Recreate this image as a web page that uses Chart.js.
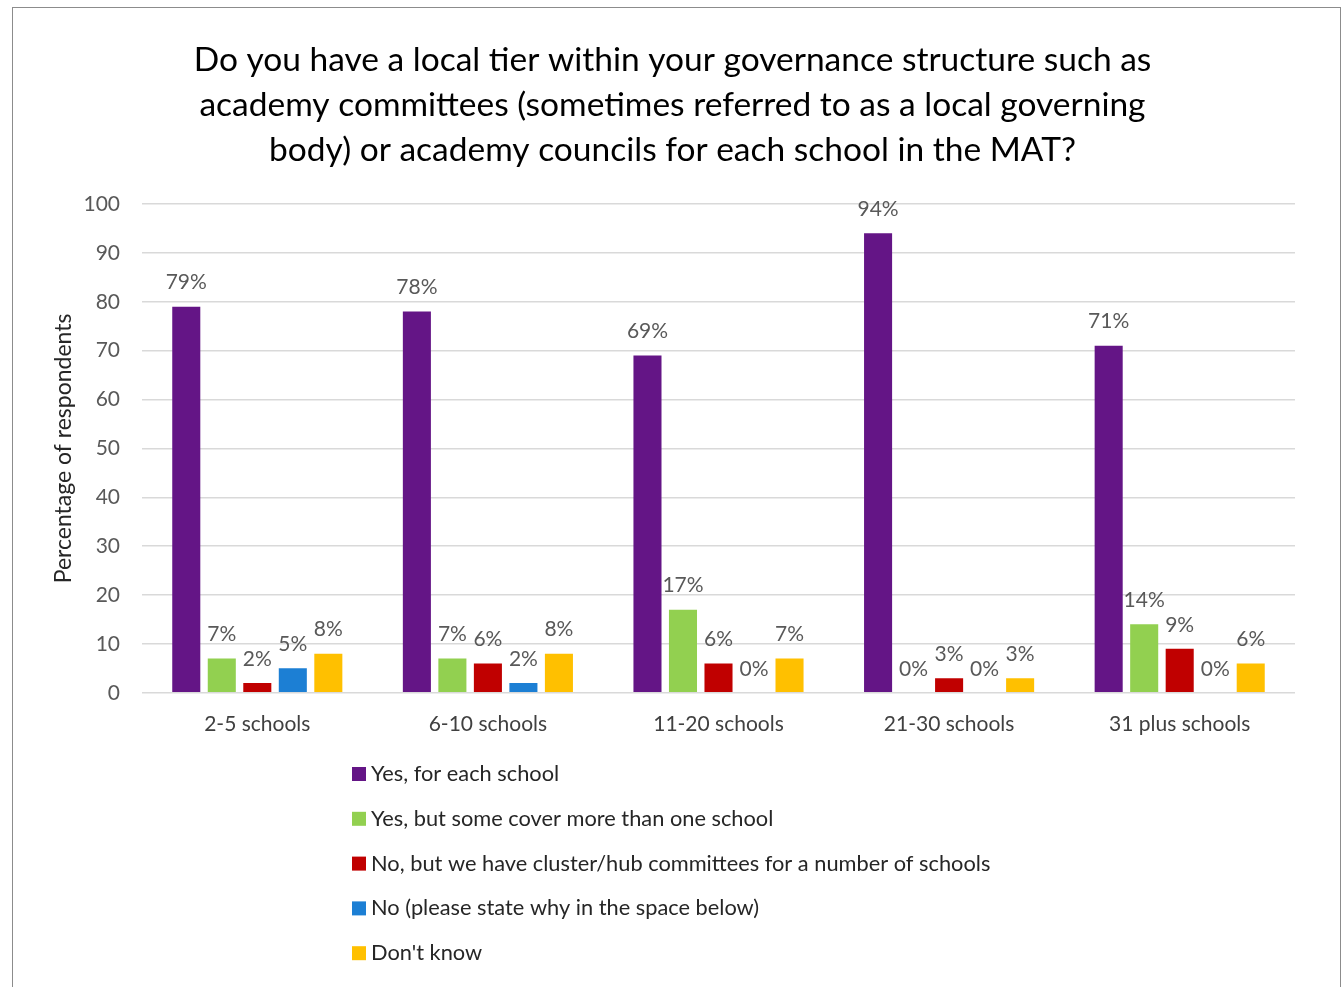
<!DOCTYPE html>
<html>
<head>
<meta charset="utf-8">
<script src="https://cdn.jsdelivr.net/npm/chart.js@4/dist/chart.umd.min.js"></script>
<style>
  html, body { margin: 0; padding: 0; background: #ffffff; }
  #wrap { position: relative; width: 1344px; height: 987px; overflow: hidden; }
  #frame { position: absolute; left: 12px; top: 7px; width: 1329px; height: 1000px; border: 1px solid #8c8c8c; box-sizing: border-box; pointer-events: none; }
  canvas { position: absolute; left: 0; top: 0; }
</style>
</head>
<body>
<div id="wrap">
  <canvas id="chart" width="1344" height="987"></canvas>
  <div id="frame"></div>
</div>
<script>
// Survey: local governance tier by MAT size
const categories = ['2-5 schools', '6-10 schools', '11-20 schools', '21-30 schools', '31 plus schools'];
const seriesNames = [
  'Yes, for each school',
  'Yes, but some cover more than one school',
  'No, but we have cluster/hub committees for a number of schools',
  'No (please state why in the space below)',
  "Don't know"
];
const yesEach     = [79, 78, 69, 94, 71];
const yesSome     = [7, 7, 17, 0, 14];
const noCluster   = [2, 6, 6, 3, 9];
const noOther     = [5, 2, 0, 0, 0];
const dontKnow    = [8, 8, 7, 3, 6];
const seriesColors = ['#641586', '#92D050', '#C00000', '#1C7FD4', '#FFC000'];
const yTicks = [0, 10, 20, 30, 40, 50, 60, 70, 80, 90, 100];

const titleLines = [
  'Do you have a local tier within your governance structure such as',
  'academy committees (sometimes referred to as a local governing',
  'body) or academy councils for each school in the MAT?'
];

const FONT = "Lato, 'Open Sans', sans-serif";
const seriesValues = [yesEach, yesSome, noCluster, noOther, dontKnow];

// Value labels above each bar
const valueLabels = {
  id: 'valueLabels',
  afterDatasetsDraw(chart) {
    const ctx = chart.ctx;
    ctx.save();
    ctx.font = '21px ' + FONT;
    ctx.fillStyle = '#595959';
    ctx.textAlign = 'center';
    ctx.textBaseline = 'middle';
    chart.data.datasets.forEach((ds, i) => {
      const meta = chart.getDatasetMeta(i);
      meta.data.forEach((bar, j) => {
        ctx.fillText(ds.data[j] + '%', bar.x, bar.y - 24);
      });
    });
    ctx.restore();
  }
};

// Stacked legend list below the axis labels
const listLegend = {
  id: 'listLegend',
  afterDraw(chart) {
    const ctx = chart.ctx;
    const x0 = 352, y0 = 774, step = 44.8, box = 14;
    ctx.save();
    ctx.font = '21.8px ' + FONT;
    ctx.textBaseline = 'middle';
    ctx.textAlign = 'left';
    chart.data.datasets.forEach((ds, i) => {
      const y = y0 + i * step;
      ctx.fillStyle = ds.backgroundColor;
      ctx.fillRect(x0, y - box / 2, box, box);
      ctx.fillStyle = '#262626';
      ctx.fillText(ds.label, x0 + box + 5, y);
    });
    ctx.restore();
  }
};

new Chart(document.getElementById('chart'), {
  type: 'bar',
  data: {
    labels: categories,
    datasets: seriesNames.map((name, i) => ({
      label: name,
      data: seriesValues[i],
      backgroundColor: seriesColors[i],
      categoryPercentage: 0.77,
      barPercentage: 0.79
    }))
  },
  options: {
    responsive: false,
    animation: false,
    events: [],
    layout: { padding: { left: 50, right: 49, top: 0, bottom: 231 } },
    plugins: {
      legend: { display: false },
      tooltip: { enabled: false },
      title: {
        display: true,
        text: titleLines,
        color: '#000000',
        font: { family: FONT, size: 33.5, weight: 'normal', lineHeight: 1.343 },
        padding: { top: 38, bottom: 31 }
      }
    },
    scales: {
      x: {
        grid: { display: false, drawTicks: false },
        border: { display: false },
        ticks: { color: '#404040', font: { family: FONT, size: 21 }, padding: 19 }
      },
      y: {
        min: 0, max: 100,
        afterBuildTicks(scale) { scale.ticks = yTicks.map(v => ({ value: v })); },
        afterFit(scale) { scale.width = 92; },
        grid: { color: '#D9D9D9', lineWidth: 1.5, drawTicks: false },
        border: { display: false },
        ticks: { color: '#595959', font: { family: FONT, size: 21 }, padding: 22 },
        title: {
          display: true,
          text: 'Percentage of respondents',
          color: '#262626',
          font: { family: FONT, size: 23 },
          padding: { top: 0, bottom: 0 }
        }
      }
    }
  },
  plugins: [valueLabels, listLegend]
});
</script>
</body>
</html>
